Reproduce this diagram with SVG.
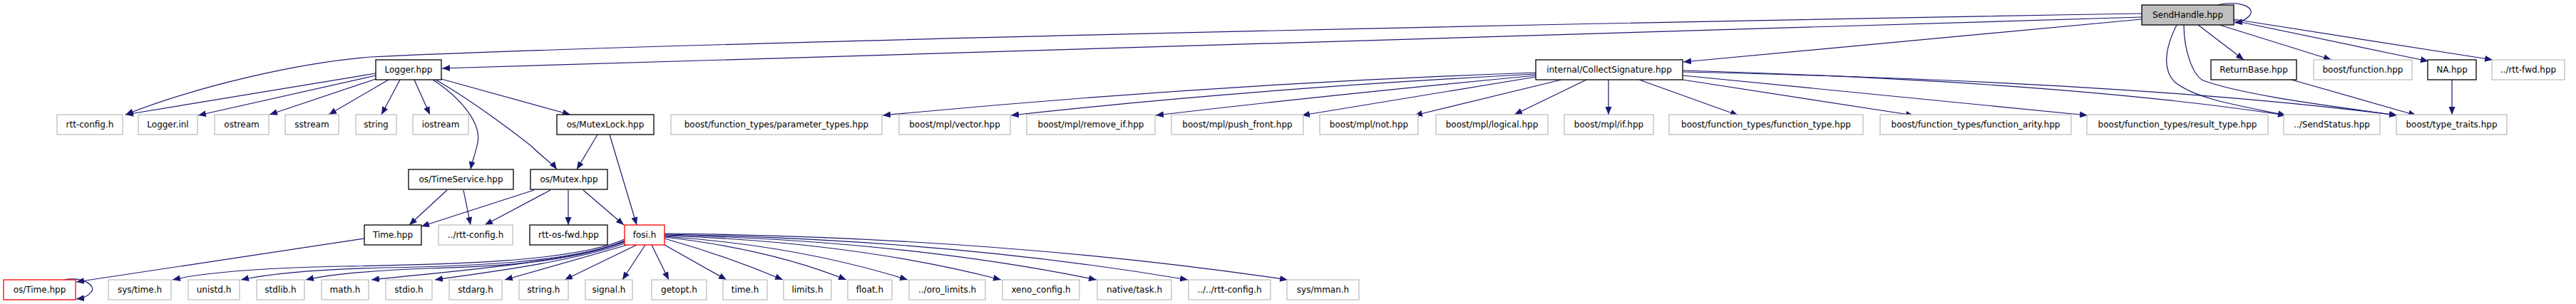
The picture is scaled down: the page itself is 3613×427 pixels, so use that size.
<svg xmlns="http://www.w3.org/2000/svg" width="3613" height="427" viewBox="0 0 3613 427">
<style>
rect{fill:#fff;stroke:#bfbfbf;stroke-width:1.3}
.b rect{stroke:#000}
.r rect{stroke:#ff0000}
.f rect{fill:#bfbfbf;stroke:#000}
text{font-family:"DejaVu Sans","Liberation Sans",sans-serif;font-size:12px;text-anchor:middle;fill:#000}
.e path{fill:none;stroke:#191970;stroke-width:1.2;marker-end:url(#a)}
</style>
<defs>
<marker id="a" markerUnits="userSpaceOnUse" markerWidth="12" markerHeight="9" refX="11" refY="4.5" orient="auto"><path d="M0,0 L11,4.5 L0,9 z" fill="#191970" stroke="none"/></marker>
</defs>
<rect x="0" y="0" width="3613" height="427" style="fill:#fff;stroke:none"/>
<g class="e" id="edges">
<path d="M3004,24 L620,96"/>
<path d="M3004,19 C2000,36 900,62 520,80 C420,88 280,120 176,161"/>
<path d="M3004,27 L2361,87"/>
<path d="M3110,7 C3140,0 3165,10 3155,22 C3150,28 3142,31 3134,32"/>
<path d="M3083,35 L3147,84"/>
<path d="M3113,35 L3270,84"/>
<path d="M3133,29 L3406,86"/>
<path d="M3133,27 L3496,84"/>
<path d="M3053,35 C3040,60 3030,95 3050,115 C3080,140 3150,150 3206,162"/>
<path d="M3063,35 C3063,70 3075,105 3090,113 C3150,135 3280,150 3362,162"/>
<path d="M2360,99 Q2900,115 3206,162"/>
<path d="M2360,101 Q3000,115 3362,162"/>
<path d="M2360,106 L2928,162"/>
<path d="M2360,112 L2684,162"/>
<path d="M2299,112 L2438,162"/>
<path d="M2256,112 L2256,161"/>
<path d="M2225,112 L2124,161"/>
<path d="M2190,112 L1984,162"/>
<path d="M2154,108 L1826,162"/>
<path d="M2154,106 Q1850,135 1621,162"/>
<path d="M2154,104 Q1750,125 1418,162"/>
<path d="M2154,102 Q1700,118 1238,162"/>
<path d="M3214,112 L3389,162"/>
<path d="M3439,112 L3439,161"/>
<path d="M527,103 L176,161"/>
<path d="M527,106 L278,162"/>
<path d="M527,111 L378,161"/>
<path d="M545,112 L461,161"/>
<path d="M561,112 L535,161"/>
<path d="M581,112 L603,161"/>
<path d="M619,111 L800,161"/>
<path d="M607,112 C650,140 675,175 670,200 C667,215 662,228 660,238"/>
<path d="M611,112 C660,140 720,185 745,205 C760,220 775,230 781,238"/>
<path d="M838,189 L809,238"/>
<path d="M855,189 L893,316"/>
<path d="M627,267 L574,316"/>
<path d="M650,267 L660,316"/>
<path d="M749,267 L591,318"/>
<path d="M772,267 L680,316"/>
<path d="M797,267 L797,316"/>
<path d="M818,267 L875,316"/>
<path d="M511,335 L107,396"/>
<path d="M90,393 C118,388 135,402 128,410 C124,416 115,419 107,420"/>
<path d="M876,336 C800,370 600,372 480,374 C380,376 290,382 242,393"/>
<path d="M876,338 C800,370 650,374 540,376 C450,378 380,384 338,393"/>
<path d="M876,339 C800,370 680,375 600,377 C520,380 460,386 429,393"/>
<path d="M876,340 C790,370 620,382 521,393"/>
<path d="M876,342 C800,368 680,383 610,393"/>
<path d="M880,344 L708,393"/>
<path d="M893,344 L792,393"/>
<path d="M905,344 L873,393"/>
<path d="M914,344 L938,393"/>
<path d="M932,344 L1019,393"/>
<path d="M932,335 Q1020,360 1098,393"/>
<path d="M932,333 Q1080,350 1187,393"/>
<path d="M932,332 Q1120,345 1273,393"/>
<path d="M932,331 Q1200,340 1404,393"/>
<path d="M932,330 Q1270,338 1538,393"/>
<path d="M932,329 Q1330,336 1666,393"/>
<path d="M932,328 Q1400,333 1806,393"/>
</g>
<g id="n_sendhandle" class="f"><rect x="3004" y="7" width="129" height="28"/><text x="3068.5" y="25">SendHandle.hpp</text></g>
<g id="n_logger" class="b"><rect x="527" y="84" width="92" height="28"/><text x="573" y="102">Logger.hpp</text></g>
<g id="n_collect" class="b"><rect x="2154" y="84" width="206" height="28"/><text x="2257" y="102">internal/CollectSignature.hpp</text></g>
<g id="n_returnbase" class="b"><rect x="3101" y="84" width="120" height="28"/><text x="3161" y="102">ReturnBase.hpp</text></g>
<g id="n_bfunction"><rect x="3245" y="84" width="138" height="28"/><text x="3314" y="102">boost/function.hpp</text></g>
<g id="n_na" class="b"><rect x="3405" y="84" width="68" height="28"/><text x="3439" y="102">NA.hpp</text></g>
<g id="n_rttfwd"><rect x="3495" y="84" width="102" height="28"/><text x="3546" y="102">../rtt-fwd.hpp</text></g>
<g id="n_rttconfig"><rect x="80" y="161" width="92" height="28"/><text x="126" y="179">rtt-config.h</text></g>
<g id="n_loggerinl"><rect x="194" y="161" width="83" height="28"/><text x="235.5" y="179">Logger.inl</text></g>
<g id="n_ostream"><rect x="301" y="161" width="76" height="28"/><text x="339" y="179">ostream</text></g>
<g id="n_sstream"><rect x="400" y="161" width="75" height="28"/><text x="437.5" y="179">sstream</text></g>
<g id="n_string"><rect x="499" y="161" width="57" height="28"/><text x="527.5" y="179">string</text></g>
<g id="n_iostream"><rect x="579" y="161" width="78" height="28"/><text x="618" y="179">iostream</text></g>
<g id="n_mutexlock" class="b"><rect x="781" y="161" width="136" height="28"/><text x="849" y="179">os/MutexLock.hpp</text></g>
<g id="n_paramtypes"><rect x="941" y="161" width="296" height="28"/><text x="1089" y="179">boost/function_types/parameter_types.hpp</text></g>
<g id="n_vector"><rect x="1261" y="161" width="156" height="28"/><text x="1339" y="179">boost/mpl/vector.hpp</text></g>
<g id="n_removeif"><rect x="1440" y="161" width="180" height="28"/><text x="1530" y="179">boost/mpl/remove_if.hpp</text></g>
<g id="n_pushfront"><rect x="1643" y="161" width="185" height="28"/><text x="1735.5" y="179">boost/mpl/push_front.hpp</text></g>
<g id="n_not"><rect x="1851" y="161" width="138" height="28"/><text x="1920" y="179">boost/mpl/not.hpp</text></g>
<g id="n_logical"><rect x="2014" y="161" width="157" height="28"/><text x="2092.5" y="179">boost/mpl/logical.hpp</text></g>
<g id="n_if"><rect x="2194" y="161" width="125" height="28"/><text x="2256.5" y="179">boost/mpl/if.hpp</text></g>
<g id="n_functype"><rect x="2341" y="161" width="272" height="28"/><text x="2477" y="179">boost/function_types/function_type.hpp</text></g>
<g id="n_funcarity"><rect x="2637" y="161" width="268" height="28"/><text x="2771" y="179">boost/function_types/function_arity.hpp</text></g>
<g id="n_resulttype"><rect x="2927" y="161" width="254" height="28"/><text x="3054" y="179">boost/function_types/result_type.hpp</text></g>
<g id="n_sendstatus"><rect x="3203" y="161" width="135" height="28"/><text x="3270.5" y="179">../SendStatus.hpp</text></g>
<g id="n_typetraits"><rect x="3361" y="161" width="155" height="28"/><text x="3438.5" y="179">boost/type_traits.hpp</text></g>
<g id="n_timeservice" class="b"><rect x="573" y="238" width="147" height="28"/><text x="646.5" y="256">os/TimeService.hpp</text></g>
<g id="n_mutex" class="b"><rect x="744" y="238" width="108" height="28"/><text x="798" y="256">os/Mutex.hpp</text></g>
<g id="n_time" class="b"><rect x="511" y="316" width="80" height="28"/><text x="551" y="334">Time.hpp</text></g>
<g id="n_rttconfig2"><rect x="615" y="316" width="104" height="28"/><text x="667" y="334">../rtt-config.h</text></g>
<g id="n_rttosfwd" class="b"><rect x="743" y="316" width="109" height="28"/><text x="797.5" y="334">rtt-os-fwd.hpp</text></g>
<g id="n_fosi" class="r"><rect x="876" y="316" width="56" height="28"/><text x="904" y="334">fosi.h</text></g>
<g id="n_ostime" class="r"><rect x="5" y="393" width="101" height="28"/><text x="55.5" y="411">os/Time.hpp</text></g>
<g id="n_systime"><rect x="152" y="393" width="88" height="28"/><text x="196" y="411">sys/time.h</text></g>
<g id="n_unistd"><rect x="264" y="393" width="72" height="28"/><text x="300" y="411">unistd.h</text></g>
<g id="n_stdlib"><rect x="360" y="393" width="67" height="28"/><text x="393.5" y="411">stdlib.h</text></g>
<g id="n_math"><rect x="451" y="393" width="66" height="28"/><text x="484" y="411">math.h</text></g>
<g id="n_stdio"><rect x="541" y="393" width="65" height="28"/><text x="573.5" y="411">stdio.h</text></g>
<g id="n_stdarg"><rect x="630" y="393" width="74" height="28"/><text x="667" y="411">stdarg.h</text></g>
<g id="n_stringh"><rect x="728" y="393" width="69" height="28"/><text x="762.5" y="411">string.h</text></g>
<g id="n_signal"><rect x="821" y="393" width="66" height="28"/><text x="854" y="411">signal.h</text></g>
<g id="n_getopt"><rect x="914" y="393" width="77" height="28"/><text x="952.5" y="411">getopt.h</text></g>
<g id="n_timeh"><rect x="1014" y="393" width="62" height="28"/><text x="1045" y="411">time.h</text></g>
<g id="n_limits"><rect x="1099" y="393" width="67" height="28"/><text x="1132.5" y="411">limits.h</text></g>
<g id="n_float"><rect x="1189" y="393" width="62" height="28"/><text x="1220" y="411">float.h</text></g>
<g id="n_orolimits"><rect x="1275" y="393" width="107" height="28"/><text x="1328.5" y="411">../oro_limits.h</text></g>
<g id="n_xenoconfig"><rect x="1406" y="393" width="108" height="28"/><text x="1460" y="411">xeno_config.h</text></g>
<g id="n_nativetask"><rect x="1539" y="393" width="104" height="28"/><text x="1591" y="411">native/task.h</text></g>
<g id="n_rttconfig3"><rect x="1667" y="393" width="115" height="28"/><text x="1724.5" y="411">../../rtt-config.h</text></g>
<g id="n_sysmman"><rect x="1805" y="393" width="101" height="28"/><text x="1855.5" y="411">sys/mman.h</text></g>
</svg>
